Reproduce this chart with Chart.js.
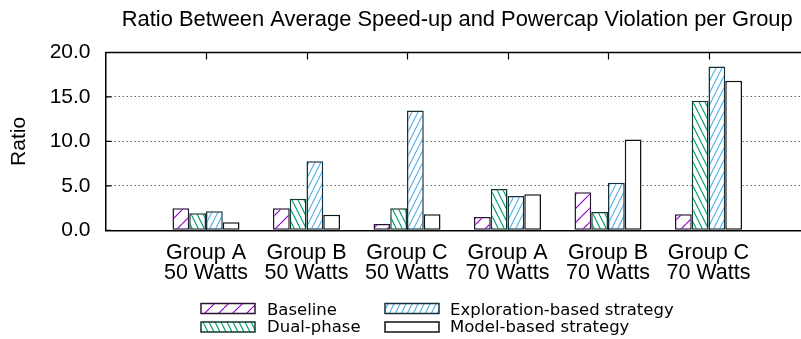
<!DOCTYPE html>
<html>
<head>
<meta charset="utf-8">
<script src="https://cdn.jsdelivr.net/npm/chart.js@4.4.1/dist/chart.umd.min.js"></script>
<style>
  html, body { margin: 0; padding: 0; background: #fff; overflow: hidden; }
  #wrap { width: 801px; height: 339px; overflow: hidden; }
  canvas { display: block; }
</style>
</head>
<body>
<div id="wrap"><canvas id="c" width="809" height="339"></canvas></div>
<script>
// ---- Data ----
const categories = [
  ['Group A', '50 Watts'],
  ['Group B', '50 Watts'],
  ['Group C', '50 Watts'],
  ['Group A', '70 Watts'],
  ['Group B', '70 Watts'],
  ['Group C', '70 Watts']
];
const seriesNames = ['Baseline', 'Dual-phase', 'Exploration-based strategy', 'Model-based strategy'];
const baseline    = [2.48, 2.48, 0.71, 1.50, 4.28, 1.80];
const dualPhase   = [1.91, 3.56, 2.48, 4.65, 2.06, 14.56];
const exploration = [2.14, 7.77, 13.47, 3.86, 5.36, 18.42];
const modelBased  = [0.90, 1.76, 1.80, 4.05, 10.20, 16.81];
const yTicks = [0, 5, 10, 15, 20];

// ---- Patterns ----
function makePattern(color, w, h, dir, lw) {
  const c = document.createElement('canvas');
  c.width = w; c.height = h;
  const g = c.getContext('2d');
  g.fillStyle = '#ffffff';
  g.fillRect(0, 0, w, h);
  g.strokeStyle = color;
  g.lineWidth = lw;
  g.beginPath();
  for (let k = -1; k <= 1; k++) {
    if (dir === '/') { g.moveTo(k * w, h); g.lineTo(k * w + w, 0); }
    else { g.moveTo(k * w, 0); g.lineTo(k * w + w, h); }
  }
  g.stroke();
  return g.createPattern(c, 'repeat');
}
const fills = [
  makePattern('#9400d3', 14, 14, '/', 1.2),
  makePattern('#009e73', 6, 12, '\\', 1.2),
  makePattern('#56b4e9', 6, 12, '/', 1.2),
  '#ffffff'
];
const borders = ['#2a1436', '#123a2b', '#16303e', '#111111'];
const seriesValues = [baseline, dualPhase, exploration, modelBased];

const FONT = "'Liberation Sans', Arial, Helvetica, sans-serif";

const datasets = seriesValues.map((vals, i) => ({
  label: seriesNames[i],
  data: vals.map((v, k) => ({ x: k, y: v })),
  backgroundColor: fills[i],
  borderColor: borders[i],
  borderWidth: 1.5,
  borderSkipped: false,
  categoryPercentage: 0.667,
  barPercentage: 1.0
}));

// ---- Frame, ticks and legend plugin ----
const framePlugin = {
  id: 'frame',
  beforeDatasetsDraw(chart) {
    const { ctx, chartArea: a, scales } = chart;
    ctx.save();
    ctx.strokeStyle = '#000';
    ctx.lineWidth = 1.2;
    ctx.beginPath();
    for (let k = 0; k < categories.length; k++) {
      const x = Math.round(scales.x.getPixelForValue(k)) + 0.5;
      ctx.moveTo(x, a.bottom); ctx.lineTo(x, a.bottom - 7);
    }
    ctx.stroke();
    ctx.restore();
  },
  afterDraw(chart) {
    const { ctx, chartArea: a, scales } = chart;
    ctx.save();
    ctx.strokeStyle = '#000';
    ctx.lineWidth = 1.5;
    ctx.beginPath();
    ctx.moveTo(a.left, a.top); ctx.lineTo(a.right + 2, a.top);
    ctx.stroke();
    ctx.lineWidth = 1.2;
    ctx.beginPath();
    for (let k = 0; k < categories.length; k++) {
      const x = Math.round(scales.x.getPixelForValue(k)) + 0.5;
      ctx.moveTo(x, a.top); ctx.lineTo(x, a.top + 7);
    }
    yTicks.forEach(v => {
      const y = scales.y.getPixelForValue(v);
      ctx.moveTo(a.left, y); ctx.lineTo(a.left + 6, y);
    });
    ctx.stroke();

    // legend (two columns)
    const layout = [
      { ds: 0, bx: 201, by: 303.5, tx: 267, ty: 315 },
      { ds: 1, bx: 201, by: 322, tx: 267, ty: 331.5 },
      { ds: 2, bx: 385, by: 303.5, tx: 450, ty: 315 },
      { ds: 3, bx: 385, by: 322, tx: 450, ty: 331.5 }
    ];
    ctx.font = "16.5px 'DejaVu Sans', sans-serif";
    ctx.textBaseline = 'alphabetic';
    ctx.textAlign = 'left';
    layout.forEach(it => {
      const ds = chart.data.datasets[it.ds];
      ctx.fillStyle = ds.backgroundColor;
      ctx.fillRect(it.bx, it.by, 54, 10);
      ctx.lineWidth = 1.5;
      ctx.strokeStyle = ds.borderColor;
      ctx.strokeRect(it.bx, it.by, 54, 10);
      ctx.fillStyle = '#000';
      ctx.fillText(ds.label, it.tx, it.ty);
    });
    ctx.restore();
  }
};

new Chart(document.getElementById('c'), {
  type: 'bar',
  data: { datasets },
  plugins: [framePlugin],
  options: {
    responsive: false,
    animation: false,
    layout: { padding: 0 },
    plugins: {
      legend: { display: false },
      tooltip: { enabled: false },
      title: {
        display: true,
        text: 'Ratio Between Average Speed-up and Powercap Violation per Group',
        fullSize: false,
        color: '#000',
        font: { family: FONT, size: 21.9, weight: 'normal', lineHeight: 1.2 },
        padding: { top: 6.5, bottom: 19.7 }
      }
    },
    scales: {
      x: {
        type: 'linear',
        min: -1,
        max: 6,
        offset: false,
        grid: { display: false, drawTicks: false },
        border: { display: true, color: '#000', width: 1.5 },
        afterBuildTicks(scale) {
          scale.ticks = categories.map((c, i) => ({ value: i }));
        },
        afterFit(scale) { scale.height = 108.7; },
        ticks: {
          autoSkip: false,
          maxRotation: 0,
          minRotation: 0,
          padding: 13,
          color: '#000',
          font: { family: FONT, size: 21.5, lineHeight: '20px' },
          callback: (v) => categories[v] || ''
        }
      },
      y: {
        min: 0,
        max: 20,
        afterBuildTicks(scale) {
          scale.ticks = yTicks.map(v => ({ value: v }));
        },
        afterFit(scale) { scale.width = 105.5; },
        grid: {
          drawTicks: false,
          lineWidth: 1,
          color: (ctx) => (ctx.tick && [5, 10, 15].includes(ctx.tick.value)) ? '#6a6a6a' : 'rgba(0,0,0,0)'
        },
        border: { display: true, color: '#000', width: 1.5, dash: [1.5, 2.5] },
        ticks: {
          padding: 15,
          color: '#000',
          font: { family: FONT, size: 21 },
          callback: (v) => Number(v).toFixed(1)
        },
        title: {
          display: true,
          text: 'Ratio',
          color: '#000',
          font: { family: FONT, size: 21 },
          padding: { top: 7, bottom: 0 }
        }
      }
    }
  }
});
</script>
</body>
</html>
